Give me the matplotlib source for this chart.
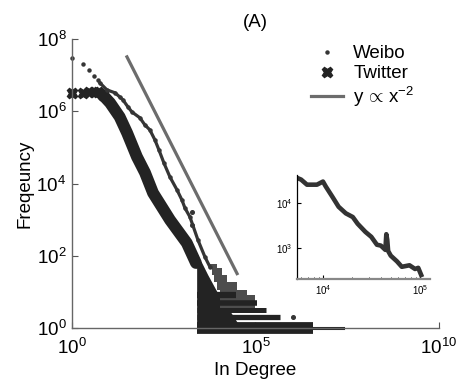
import matplotlib
matplotlib.use("Agg")
import matplotlib.pyplot as plt
from matplotlib.lines import Line2D
import numpy as np

plt.rcParams['font.family'] = ['Liberation Sans', 'DejaVu Sans']
plt.rcParams['mathtext.fontset'] = 'custom'
plt.rcParams['mathtext.rm'] = 'Liberation Sans'
plt.rcParams['mathtext.it'] = 'Liberation Sans'

# Weibo in-degree distribution
weibo_deg = [1, 2, 3, 4, 5, 5.8, 9, 15, 20, 24.5, 33.6, 43, 71, 97, 133, 183, 235,
             321, 468, 727, 993, 1200, 1640, 2710, 4200, 5760]
weibo_freq = [3e7, 2e7, 1.4e7, 9.5e6, 7.4e6, 6.1e6, 3.9e6, 3.24e6, 2.5e6, 2.07e6,
              1.32e6, 9.6e5, 6.6e5, 4.2e5, 3.05e5, 1.6e5, 8.5e4, 3.7e4, 1.52e4,
              6.7e3, 3.5e3, 2.1e3, 1.19e3, 274, 93, 49]
weibo_out_deg = [1860, 1900, 1.05e6]
weibo_out_freq = [1640, 715, 2]
# Weibo tail (grey staircase)
weibo_tail_freq = [3.5, 5, 8, 11, 19, 30, 46, 60]
weibo_tail_xmin = [1.1e4, 1.1e4, 1.05e4, 9000, 7500, 6500, 5500, 5000]
weibo_tail_xmax = [9.7e4, 9.7e4, 5.9e4, 3.1e4, 1.7e4, 1.2e4, 8700, 6000]

# Twitter in-degree distribution
twitter_deg = [1, 2, 3, 4, 5, 7, 11, 20, 32, 59, 98, 162, 470, 1350, 2400]
twitter_freq = [3.2e6, 3.2e6, 3.4e6, 3.4e6, 3.4e6, 2.8e6, 1.7e6, 7e5, 2.5e5, 5.5e4,
                2e4, 5.5e3, 980, 225, 63]
# Twitter tail: filled body plus horizontal stripes
twitter_body_freq = [1, 3, 10, 30, 70]
twitter_body_xmin = [2500, 2500, 2500, 2500, 2500]
twitter_body_xmax = [4e4, 2e4, 9e3, 5000, 3300]
twitter_tail_freq = [1, 2, 3.2, 5, 8]
twitter_tail_xmax = [3.7e6, 4.6e5, 2e5, 1.1e5, 3e4]
twitter_tail_lw = [8.5, 3.8, 3.6, 4, 4.5]
twitter_far_xmax = 2.4e7

# reference line y ~ x^-2
ref_x = np.array([31.6, 3.16e4])
ref_y = 3.2e10 * ref_x ** -2.0

# inset curve
inset_deg = [5300, 5950, 6840, 8670, 1.0e4, 1.07e4, 1.25e4, 1.45e4, 1.72e4, 2.03e4,
             2.28e4, 2.74e4, 3.15e4, 3.6e4, 3.95e4, 4.4e4, 4.5e4, 4.6e4, 4.7e4,
             5.0e4, 5.8e4, 6.5e4, 7.8e4, 8.9e4, 9.6e4, 1.03e5]
inset_freq = [3.6e4, 3.24e4, 2.5e4, 2.5e4, 2.93e4, 2.27e4, 1.35e4, 8.1e3, 5.8e3,
              4.8e3, 3.4e3, 2.25e3, 1.75e3, 1.17e3, 1.12e3, 900, 2.0e3, 1.5e3, 850,
              670, 500, 380, 410, 340, 360, 250]

fig = plt.figure(figsize=(4.58, 3.89), dpi=100)
ax = fig.add_axes([0.157, 0.1568, 0.8015, 0.7429])

tw_col = '#232323'
wb_col = '#353535'
grey_col = '#4d4d4d'

# Twitter
ax.fill_betweenx(twitter_body_freq, twitter_body_xmin, twitter_body_xmax,
                 color=tw_col, lw=0)
for yv, x1, lw in zip(twitter_tail_freq, twitter_tail_xmax, twitter_tail_lw):
    ax.plot([twitter_body_xmin[0], x1], [yv, yv], color=tw_col, lw=lw,
            solid_capstyle='butt', clip_on=False)
ax.plot([twitter_tail_xmax[0], twitter_far_xmax], [1, 1], color=tw_col, lw=2.2, clip_on=False)
ax.plot(twitter_deg[5:], twitter_freq[5:], color=tw_col, lw=8.5, solid_capstyle='round',
        clip_on=False)
ax.plot(twitter_deg[:6], twitter_freq[:6], ls='none', marker='X', ms=7.5, color=tw_col,
        mec=tw_col, clip_on=False)

# Weibo
ax.fill_betweenx(weibo_tail_freq, weibo_tail_xmin, weibo_tail_xmax, step='post',
                 color=grey_col, lw=0)
ax.plot(weibo_deg[5:], weibo_freq[5:], color=wb_col, lw=2.3)
ax.plot(weibo_deg, weibo_freq, ls='none', marker='o', ms=2.2, color=wb_col, clip_on=False)
ax.plot(weibo_out_deg, weibo_out_freq, ls='none', marker='o', ms=2.6, color=wb_col)

# reference
ax.plot(ref_x, ref_y, color='#6c6c6c', lw=2.3)

ax.set_xscale('log')
ax.set_yscale('log')
ax.set_xlim(1, 1e10)
ax.set_ylim(1, 1e8)
ax.set_xticks([1, 1e5, 1e10])
ax.set_yticks([1, 1e2, 1e4, 1e6, 1e8])
ax.minorticks_off()
ax.tick_params(direction='in', length=4, labelsize=13.5, color='#555555')
ax.tick_params(axis='x', pad=7)
ax.tick_params(axis='y', pad=4)
for s in ['top', 'right']:
    ax.spines[s].set_visible(False)
for s in ['left', 'bottom']:
    ax.spines[s].set_color('#666666')
    ax.spines[s].set_linewidth(1.0)
ax.set_xlabel('In Degree', fontsize=13.5, labelpad=3)
ax.set_ylabel('Freqeuncy', fontsize=13.5, labelpad=2)
ax.set_title('(A)', fontsize=13.5, pad=9)

handles = [
    Line2D([], [], ls='none', marker='o', ms=2.2, color=wb_col),
    Line2D([], [], ls='none', marker='X', ms=7.5, color=tw_col),
    Line2D([], [], color='#6c6c6c', lw=2.3),
]
labels = ['Weibo', 'Twitter', r'y $\!\propto\!$ x$^{-2}$']
ax.legend(handles, labels, loc='upper left', bbox_to_anchor=(311 / 458, 1 - 45 / 389),
          bbox_transform=fig.transFigure, frameon=False, fontsize=13.5,
          handlelength=1.7, handletextpad=0.55, labelspacing=0.15,
          borderpad=0, borderaxespad=0)

# inset
axi = fig.add_axes([0.6485, 0.2828, 0.2904, 0.2674])
axi.plot(inset_deg, inset_freq, color='#333333', lw=3.3, solid_joinstyle='round')
axi.set_xscale('log')
axi.set_yscale('log')
axi.set_xlim(5400, 1.27e5)
axi.set_ylim(204, 4.1e4)
axi.set_xticks([1e4, 1e5])
axi.set_yticks([1e3, 1e4])
axi.yaxis.set_minor_locator(matplotlib.ticker.NullLocator())
axi.tick_params(direction='in', length=3, labelsize=7, pad=3)
axi.tick_params(which='minor', direction='in', length=1.5)
for s in ['top', 'right']:
    axi.spines[s].set_visible(False)
axi.spines['bottom'].set_color('#888888')
axi.spines['bottom'].set_linewidth(1.6)
axi.spines['left'].set_linewidth(0.9)
axi.patch.set_alpha(0)

fig.savefig('out.png', dpi=100)
